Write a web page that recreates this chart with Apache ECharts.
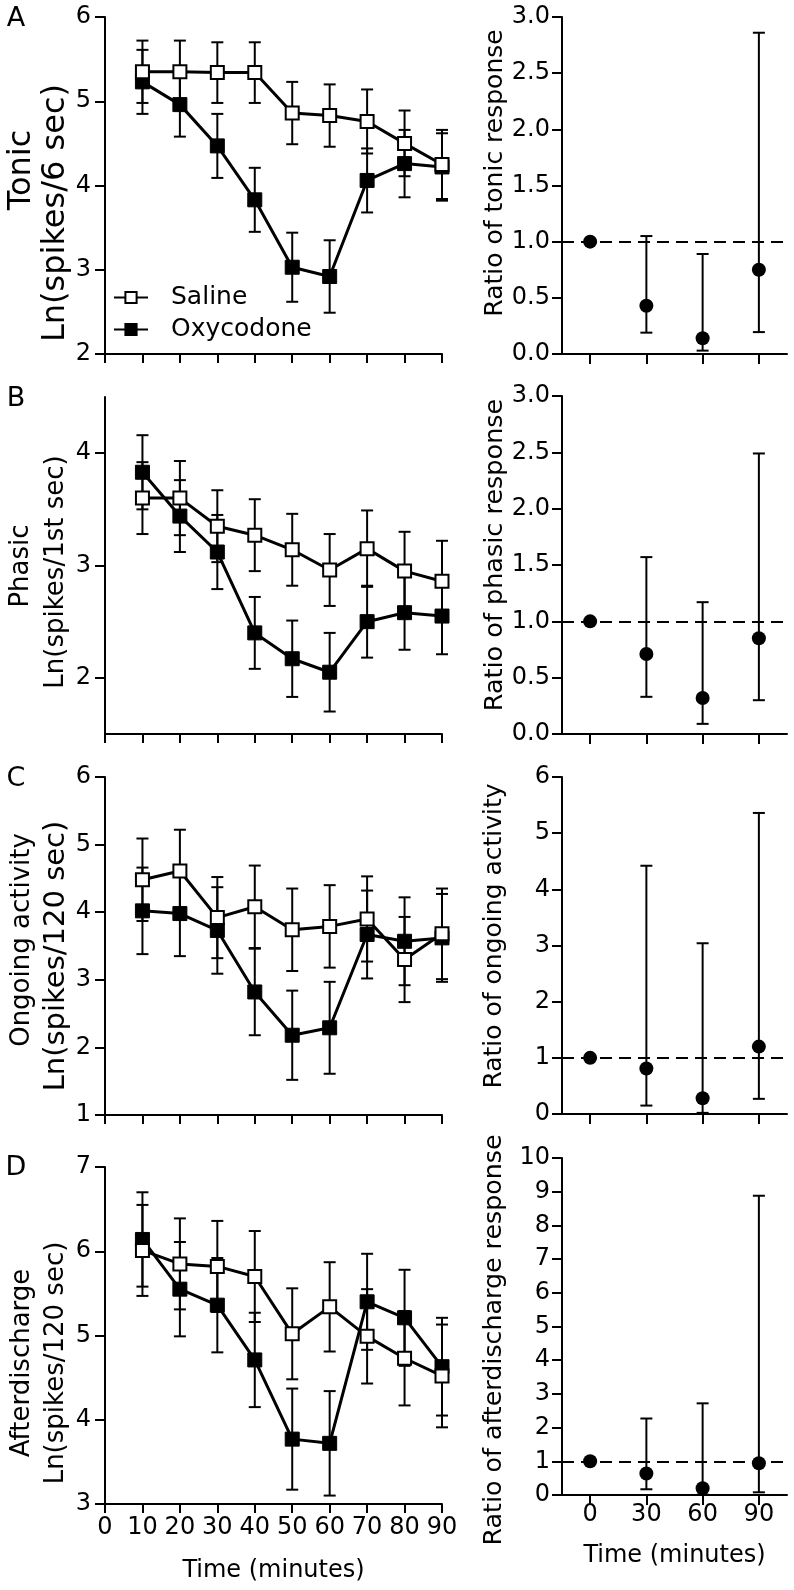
<!DOCTYPE html>
<html><head><meta charset="utf-8">
<script src="https://cdn.jsdelivr.net/npm/echarts@6/dist/echarts.min.js"></script>
<style>html,body{margin:0;padding:0;background:#fff}#c{width:794px;height:1590px}</style>
</head><body><div id="c"></div>
<script>
// ---------- data ----------
const time = [10, 20, 30, 40, 50, 60, 70, 80, 90];
const ratioTime = [0, 30, 60, 90];

// A: Tonic
const salineA = [5.35, 5.35, 5.34, 5.34, 4.86, 4.83, 4.76, 4.50, 4.25];
const salineAErr = [0.37, 0.37, 0.36, 0.36, 0.37, 0.37, 0.38, 0.39, 0.41];
const oxyA = [5.23, 4.96, 4.47, 3.83, 3.03, 2.92, 4.06, 4.26, 4.22];
const oxyAErr = [0.38, 0.38, 0.38, 0.38, 0.41, 0.43, 0.38, 0.40, 0.40];
const ratioA = [1.0, 0.43, 0.14, 0.75];
const ratioALow = [1.0, 0.19, 0.03, 0.195];
const ratioAHigh = [1.0, 1.05, 0.89, 2.86];

// B: Phasic
const salineB = [3.60, 3.60, 3.35, 3.27, 3.14, 2.96, 3.15, 2.95, 2.86];
const salineBErr = [0.32, 0.33, 0.32, 0.32, 0.32, 0.32, 0.34, 0.35, 0.36];
const oxyB = [3.83, 3.44, 3.12, 2.40, 2.17, 2.05, 2.50, 2.58, 2.55];
const oxyBErr = [0.33, 0.32, 0.33, 0.32, 0.34, 0.35, 0.32, 0.33, 0.34];
const ratioB = [1.0, 0.71, 0.32, 0.85];
const ratioBLow = [1.0, 0.33, 0.09, 0.30];
const ratioBHigh = [1.0, 1.57, 1.17, 2.49];

// C: Ongoing activity
const salineC = [4.48, 4.61, 3.92, 4.08, 3.74, 3.79, 3.90, 3.30, 3.68];
const salineCErr = [0.61, 0.61, 0.60, 0.61, 0.61, 0.61, 0.63, 0.63, 0.67];
const oxyC = [4.02, 3.98, 3.73, 2.82, 2.18, 2.29, 3.67, 3.57, 3.62];
const oxyCErr = [0.64, 0.63, 0.64, 0.64, 0.66, 0.68, 0.65, 0.65, 0.65];
const ratioC = [1.0, 0.81, 0.28, 1.20];
const ratioCLow = [1.0, 0.15, 0.02, 0.27];
const ratioCHigh = [1.0, 4.42, 3.04, 5.36];

// D: Afterdischarge
const salineD = [6.01, 5.85, 5.82, 5.70, 5.02, 5.34, 4.99, 4.73, 4.52];
const salineDErr = [0.54, 0.54, 0.54, 0.54, 0.54, 0.53, 0.56, 0.56, 0.61];
const oxyD = [6.14, 5.55, 5.36, 4.71, 3.77, 3.72, 5.40, 5.21, 4.63];
const oxyDErr = [0.56, 0.56, 0.56, 0.56, 0.60, 0.62, 0.57, 0.57, 0.58];
const ratioD = [1.0, 0.64, 0.20, 0.94];
const ratioDLow = [1.0, 0.17, 0.01, 0.08];
const ratioDHigh = [1.0, 2.27, 2.72, 8.88];

// tick labels
const timeTicks = [0, 10, 20, 30, 40, 50, 60, 70, 80, 90];
const ratioTimeTicks = [0, 30, 60, 90];
const leftTicksA = [2, 3, 4, 5, 6];
const leftTicksB = [2, 3, 4];
const leftTicksC = [1, 2, 3, 4, 5, 6];
const leftTicksD = [3, 4, 5, 6, 7];
const rightTicksA = [0, 0.5, 1.0, 1.5, 2.0, 2.5, 3.0];
const rightTicksB = [0, 0.5, 1.0, 1.5, 2.0, 2.5, 3.0];
const rightTicksC = [0, 1, 2, 3, 4, 5, 6];
const rightTicksD = [0, 1, 2, 3, 4, 5, 6, 7, 8, 9, 10];

// ---------- build ----------
const FONT = 'DejaVu Sans';
const BLACK = '#000';

function errMean(t, m, e) { return t.map((x, i) => [x, m[i] - e[i], m[i] + e[i]]); }
function errLH(t, lo, hi) { return t.map((x, i) => [x, lo[i], hi[i]]); }
function pairs(t, v) { return t.map((x, i) => [x, v[i]]); }

function renderErr(params, api) {
  const x = api.value(0), lo = api.value(1), hi = api.value(2);
  const a = api.coord([x, lo]), b = api.coord([x, hi]);
  const w = 6;
  const st = { stroke: BLACK, lineWidth: 2 };
  return { type: 'group', children: [
    { type: 'line', shape: { x1: a[0], y1: a[1], x2: b[0], y2: b[1] }, style: st },
    { type: 'line', shape: { x1: a[0] - w, y1: a[1], x2: a[0] + w, y2: a[1] }, style: st },
    { type: 'line', shape: { x1: b[0] - w, y1: b[1], x2: b[0] + w, y2: b[1] }, style: st }
  ]};
}

const panels = [
  { sal: salineA, salE: salineAErr, oxy: oxyA, oxyE: oxyAErr, r: ratioA, rl: ratioALow, rh: ratioAHigh,
    lMin: 2, lMax: 6, lTicks: leftTicksA, rMax: 3, rTicks: rightTicksA, rFmt: v => Number(v).toFixed(1),
    lGrid: { top: 17, height: 337 }, rGrid: { top: 17, height: 337 } },
  { sal: salineB, salE: salineBErr, oxy: oxyB, oxyE: oxyBErr, r: ratioB, rl: ratioBLow, rh: ratioBHigh,
    lMin: 1.5, lMax: 4.5, lTicks: leftTicksB, rMax: 3, rTicks: rightTicksB, rFmt: v => Number(v).toFixed(1),
    lGrid: { top: 397, height: 337 }, rGrid: { top: 396, height: 338 } },
  { sal: salineC, salE: salineCErr, oxy: oxyC, oxyE: oxyCErr, r: ratioC, rl: ratioCLow, rh: ratioCHigh,
    lMin: 1, lMax: 6, lTicks: leftTicksC, rMax: 6, rTicks: rightTicksC, rFmt: v => String(v),
    lGrid: { top: 777, height: 338 }, rGrid: { top: 777, height: 337 } },
  { sal: salineD, salE: salineDErr, oxy: oxyD, oxyE: oxyDErr, r: ratioD, rl: ratioDLow, rh: ratioDHigh,
    lMin: 3, lMax: 7, lTicks: leftTicksD, rMax: 10, rTicks: rightTicksD, rFmt: v => String(v),
    lGrid: { top: 1167, height: 337 }, rGrid: { top: 1158, height: 337 } }
];

const axisLine = { show: true, onZero: false, lineStyle: { color: BLACK, width: 2 } };
const tickStyle = { color: BLACK, width: 2 };
const labelBase = { color: BLACK, fontFamily: FONT, fontSize: 24 };

const grid = [], xAxis = [], yAxis = [], series = [];
panels.forEach((p, k) => {
  const last = k === panels.length - 1;
  grid.push({ left: 105, width: 337, top: p.lGrid.top, height: p.lGrid.height });
  grid.push({ left: 562, width: 225, top: p.rGrid.top, height: p.rGrid.height });
  const gl = 2 * k, gr = 2 * k + 1;

  xAxis.push({ type: 'value', gridIndex: gl, min: 0, max: 90, interval: 10,
    axisLine, splitLine: { show: false },
    axisTick: { show: true, length: 9, lineStyle: tickStyle, customValues: timeTicks },
    axisLabel: Object.assign({ show: last, margin: 12, customValues: timeTicks }, labelBase),
    name: last ? 'Time (minutes)' : '', nameLocation: 'middle', nameGap: 55,
    nameTextStyle: { color: BLACK, fontFamily: FONT, fontSize: 24 } });
  xAxis.push({ type: 'value', gridIndex: gr, min: -15, max: 105,
    axisLine, splitLine: { show: false },
    axisTick: { show: true, length: 10, lineStyle: tickStyle, customValues: ratioTimeTicks },
    axisLabel: Object.assign({ show: last, margin: 8, customValues: ratioTimeTicks }, labelBase),
    name: last ? 'Time (minutes)' : '', nameLocation: 'middle', nameGap: 49,
    nameTextStyle: { color: BLACK, fontFamily: FONT, fontSize: 24 } });

  yAxis.push({ type: 'value', gridIndex: gl, min: p.lMin, max: p.lMax,
    axisLine, splitLine: { show: false },
    axisTick: { show: true, length: 10, lineStyle: tickStyle, customValues: p.lTicks },
    axisLabel: Object.assign({ margin: 14, customValues: p.lTicks }, labelBase) });
  yAxis.push({ type: 'value', gridIndex: gr, min: 0, max: p.rMax,
    axisLine, splitLine: { show: false },
    axisTick: { show: true, length: 10, lineStyle: tickStyle, customValues: p.rTicks },
    axisLabel: Object.assign({ margin: 12, customValues: p.rTicks, formatter: p.rFmt }, labelBase) });

  series.push({ type: 'custom', xAxisIndex: gl, yAxisIndex: gl, renderItem: renderErr,
    encode: { x: 0, y: [1, 2] }, data: errMean(time, p.oxy, p.oxyE), z: 2, silent: true });
  series.push({ type: 'custom', xAxisIndex: gl, yAxisIndex: gl, renderItem: renderErr,
    encode: { x: 0, y: [1, 2] }, data: errMean(time, p.sal, p.salE), z: 2, silent: true });
  series.push({ type: 'line', name: 'Oxycodone', xAxisIndex: gl, yAxisIndex: gl,
    data: pairs(time, p.oxy), symbol: 'rect', symbolSize: 14,
    itemStyle: { color: BLACK, borderColor: BLACK, borderWidth: 1 },
    lineStyle: { color: BLACK, width: 3 }, z: 3 });
  series.push({ type: 'line', name: 'Saline', xAxisIndex: gl, yAxisIndex: gl,
    data: pairs(time, p.sal), symbol: 'rect', symbolSize: 13,
    itemStyle: { color: '#fff', borderColor: BLACK, borderWidth: 2 },
    lineStyle: { color: BLACK, width: 3 }, z: 4 });

  series.push({ type: 'custom', xAxisIndex: gr, yAxisIndex: gr, renderItem: renderErr,
    encode: { x: 0, y: [1, 2] }, data: errLH(ratioTime, p.rl, p.rh), z: 2, silent: true });
  series.push({ type: 'scatter', name: 'ratio' + k, xAxisIndex: gr, yAxisIndex: gr,
    data: pairs(ratioTime, p.r), symbol: 'circle', symbolSize: 14,
    itemStyle: { color: BLACK, opacity: 1 }, z: 4,
    markLine: { silent: true, symbol: ['none', 'none'], label: { show: false },
      lineStyle: { color: BLACK, width: 2, type: [12, 7] }, data: [{ yAxis: 1 }] } });
});

function vtext(x, y, text, size) {
  return { type: 'text', x, y, rotation: Math.PI / 2, silent: true,
    style: { text, fill: BLACK, fontFamily: FONT, fontSize: size, align: 'center', verticalAlign: 'middle' } };
}
function htext(x, y, text, size) {
  return { type: 'text', x, y, silent: true,
    style: { text, fill: BLACK, fontFamily: FONT, fontSize: size, align: 'center', verticalAlign: 'middle' } };
}

const graphic = [
  htext(16, 19, 'A', 27), htext(16, 399, 'B', 27), htext(16, 779, 'C', 27), htext(16, 1168, 'D', 27),
  vtext(22, 170, 'Tonic', 32), vtext(56, 213, 'Ln(spikes/6 sec)', 32),
  vtext(21, 566, 'Phasic', 26), vtext(56, 572, 'Ln(spikes/1st sec)', 26),
  vtext(22, 940, 'Ongoing activity', 26), vtext(56, 956, 'Ln(spikes/120 sec)', 29),
  vtext(22, 1363, 'Afterdischarge', 26), vtext(56, 1363, 'Ln(spikes/120 sec)', 26),
  vtext(495, 173, 'Ratio of tonic response', 25),
  vtext(495, 555, 'Ratio of phasic response', 25.5),
  vtext(494, 936, 'Ratio of ongoing activity', 25),
  vtext(494, 1340, 'Ratio of afterdischarge response', 25.3)
];

const chart = echarts.init(document.getElementById('c'), null, { renderer: 'canvas' });
chart.setOption({
  animation: false,
  backgroundColor: '#fff',
  textStyle: { fontFamily: FONT, color: BLACK },
  grid, xAxis, yAxis, series, graphic,
  legend: {
    data: ['Saline', 'Oxycodone'], orient: 'vertical', left: 113, top: 285, padding: 0,
    itemWidth: 34, itemHeight: 14, itemGap: 7, selectedMode: false,
    textStyle: { fontSize: 25, color: BLACK, fontFamily: FONT, padding: [0, 0, 0, 18] }
  }
});
</script>
</body></html>
